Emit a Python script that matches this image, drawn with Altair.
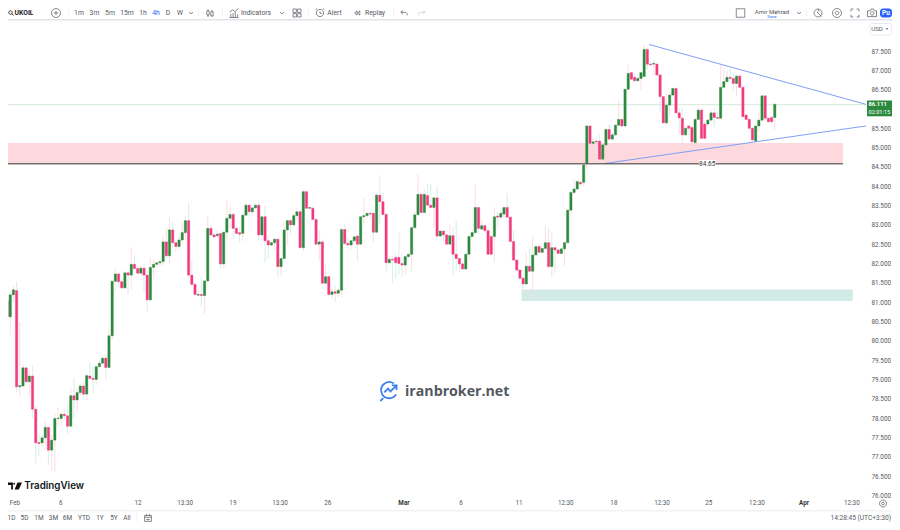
import altair as alt
import pandas as pd

opens = [80.82,80.51,81.03,80.62,81.19,81.3,78.81,78.83,79.3,78.94,
79.09,78.23,77.37,77.36,77.49,77.76,77.17,77.43,77.99,77.99,
78.1,78.06,77.79,78.58,78.47,78.66,78.83,78.62,79.09,79.03,
79.0,79.33,79.42,79.55,79.31,80.13,81.54,81.73,81.53,81.37,
81.76,81.7,81.98,81.87,81.75,81.88,81.7,81.06,81.9,81.98,
82.02,82.05,82.56,82.2,82.87,82.54,82.44,82.61,82.8,83.11,
81.7,81.46,81.18,81.2,81.17,81.55,82.91,82.74,82.72,82.78,
81.99,82.81,83.17,83.27,82.91,82.8,82.78,83.25,83.51,83.34,
83.44,83.51,82.74,83.21,82.59,82.48,82.54,82.63,81.92,82.13,
82.87,83.11,83.0,83.24,83.34,82.41,83.86,83.43,83.43,83.14,
82.5,82.56,81.49,81.66,81.2,81.27,81.23,81.31,82.88,82.52,
82.48,82.59,82.71,82.5,83.21,83.24,83.3,83.3,82.81,83.77,
83.6,83.27,82.02,82.11,82.16,82.16,82.0,81.96,82.18,82.24,
82.93,83.26,83.79,83.32,83.76,83.51,83.45,83.7,82.71,82.84,
82.74,82.5,82.72,82.24,82.13,81.99,81.86,82.24,82.7,82.8,
83.45,82.89,82.98,82.85,82.7,82.7,83.23,83.2,83.28,83.45,
83.2,82.57,82.09,81.83,81.62,81.47,81.93,81.8,82.22,82.44,
82.29,82.39,82.54,81.92,82.41,82.35,82.26,82.38,82.54,83.38,
83.84,83.93,84.1,84.1,84.6,85.56,85.11,85.17,85.17,84.7,
85.07,85.47,85.22,85.33,85.58,85.73,85.56,86.51,86.94,86.82,
86.73,86.79,86.84,87.54,87.16,87.16,87.16,86.88,86.32,85.64,
86.1,86.36,86.53,85.9,85.76,85.33,85.56,85.52,85.13,85.73,
85.97,85.61,85.61,85.71,85.9,85.78,85.76,86.56,86.71,86.82,
86.79,86.66,86.85,86.56,85.84,85.73,85.5,85.17,85.56,85.71,
86.34,85.76,85.78,85.78]

closes = [80.51,81.03,80.62,81.19,81.32,78.81,78.84,79.3,78.94,79.09,
78.23,77.36,77.34,77.49,77.76,77.17,77.43,77.99,78.0,78.1,
78.06,77.79,78.58,78.47,78.66,78.83,78.62,79.1,79.03,79.0,
79.33,79.42,79.55,79.31,80.13,81.54,81.73,81.53,81.37,81.76,
81.7,81.98,81.87,81.75,81.88,81.7,81.06,81.9,81.98,82.02,
82.05,82.56,82.2,82.87,82.54,82.44,82.61,82.8,83.11,81.7,
81.46,81.2,81.2,81.17,81.55,82.91,82.74,82.69,82.76,81.99,
82.81,83.17,83.27,82.91,82.78,82.76,83.25,83.51,83.34,83.44,
83.51,82.74,83.21,82.59,82.48,82.54,82.63,81.92,82.13,82.87,
83.11,83.0,83.24,83.34,82.41,83.86,83.43,83.45,83.14,82.5,
82.56,81.49,81.66,81.2,81.27,81.23,81.31,82.88,82.52,82.48,
82.59,82.69,82.5,83.21,83.24,83.3,83.28,82.81,83.77,83.6,
83.27,82.02,82.11,82.09,82.02,82.0,81.96,82.18,82.24,82.93,
83.26,83.79,83.32,83.79,83.51,83.45,83.7,82.71,82.84,82.74,
82.5,82.72,82.24,82.13,81.99,81.86,82.24,82.7,82.8,83.45,
82.91,82.98,82.85,82.24,82.24,83.21,83.2,83.3,83.45,83.2,
82.57,82.09,81.83,81.62,81.47,81.93,81.8,82.22,82.44,82.29,
82.39,82.54,81.92,82.41,82.35,82.26,82.38,82.54,83.38,83.84,
83.93,84.12,84.06,84.55,85.56,85.11,85.15,85.15,84.7,85.07,
85.47,85.22,85.33,85.58,85.73,85.56,86.51,86.92,86.77,86.73,
86.79,86.94,87.54,87.16,87.14,87.18,86.88,86.32,85.64,86.1,
86.36,86.53,85.9,85.77,85.33,85.5,85.5,85.15,85.73,85.97,
85.24,85.24,85.71,85.9,85.78,85.76,86.56,86.71,86.82,86.79,
86.66,86.85,86.56,85.8,85.73,85.5,85.2,85.56,85.71,86.34,
85.76,85.67,85.67,86.12]

highs = [80.93,81.14,81.19,81.27,81.42,81.53,80.49,79.39,79.33,79.26,
79.37,78.31,77.61,77.56,77.9,77.76,77.56,78.12,78.29,78.17,
78.23,78.4,78.77,79.03,78.78,78.9,78.93,79.12,79.44,79.35,
79.36,79.5,79.6,79.63,80.36,81.56,81.87,81.74,81.56,81.8,
81.8,82.42,82.22,81.95,81.95,82.0,81.75,82.15,82.1,82.05,
82.1,82.7,82.91,83.2,83.08,82.6,82.7,83.04,83.25,83.57,
82.1,81.5,81.32,81.66,81.58,83.21,83.0,82.8,82.85,82.8,
82.82,83.64,83.51,83.3,82.95,82.94,83.28,83.57,83.53,83.47,
83.56,83.6,83.23,83.49,82.71,82.59,82.65,82.65,82.14,83.04,
83.13,83.13,83.32,83.43,83.39,83.92,83.88,83.47,83.46,83.17,
82.87,82.62,81.96,81.68,81.36,81.44,81.36,82.94,83.04,82.65,
82.61,82.74,82.74,83.23,83.69,83.32,83.34,83.34,83.83,84.29,
83.83,83.3,82.16,82.2,82.26,82.8,82.26,82.22,82.26,82.95,
83.34,84.31,83.82,83.93,84.05,84.05,83.73,84.01,82.87,82.87,
82.78,83.01,82.95,83.13,82.15,82.05,82.26,82.72,82.87,84.03,
83.47,83.1,83.01,82.91,82.74,83.45,83.34,83.38,83.47,83.82,
83.22,82.87,82.12,81.86,81.63,82.29,82.39,82.72,82.46,82.46,
82.41,82.98,82.91,82.82,82.43,82.38,82.39,82.58,83.41,83.88,
84.19,84.16,84.14,84.6,85.6,85.59,85.24,85.28,85.33,85.1,
85.5,85.59,85.37,85.63,86.21,85.76,86.53,87.16,86.97,86.92,
86.84,86.97,87.66,87.6,87.22,87.27,87.2,86.9,86.34,86.4,
86.45,86.56,86.55,86.02,86.02,85.56,85.58,85.56,85.76,86.06,
86.02,85.67,85.76,85.97,86.02,85.93,87.14,87.0,86.99,87.05,
86.92,86.88,86.92,86.58,85.87,85.76,85.53,85.58,85.93,86.36,
86.36,85.78,85.82,86.15]

lows = [80.23,80.47,80.49,80.15,81.0,78.66,78.57,78.81,78.9,78.57,
78.0,76.83,77.02,77.28,77.3,76.79,76.64,76.61,77.78,77.82,
77.95,77.6,77.78,78.0,78.17,78.6,78.55,78.47,78.99,78.65,
78.85,79.3,79.4,79.0,79.3,80.03,81.3,81.4,81.35,81.35,
81.2,81.31,81.85,81.7,81.68,81.25,80.75,81.03,81.6,81.9,
81.92,81.94,82.13,82.0,82.42,82.3,82.35,82.5,82.6,81.62,
81.42,81.17,81.14,80.88,80.69,81.5,82.7,82.65,82.65,81.87,
81.87,82.6,82.91,82.65,82.76,82.54,82.59,83.25,83.23,83.25,
83.42,82.6,82.7,82.02,82.11,82.45,82.35,81.64,81.68,82.1,
82.48,82.78,82.95,83.13,82.39,82.31,83.41,83.4,83.12,82.5,
82.07,81.47,81.44,81.16,81.1,81.0,81.12,81.12,82.5,82.45,
82.37,82.48,82.07,82.48,83.0,83.17,83.17,82.56,82.78,83.02,
83.25,81.79,81.96,81.49,81.59,81.7,81.66,81.7,82.13,81.79,
82.9,83.24,83.3,83.3,83.49,83.44,82.93,82.67,82.69,82.57,
82.48,82.48,81.7,81.83,81.79,81.83,81.83,82.13,82.67,82.78,
82.78,82.87,82.82,82.22,82.22,82.05,82.95,83.18,83.17,83.17,
82.55,82.06,81.81,81.57,81.34,81.44,81.79,81.05,82.2,82.26,
82.26,82.37,81.89,81.66,81.77,82.25,82.24,81.94,82.52,83.21,
83.8,83.9,84.0,84.0,84.45,85.09,84.94,85.1,84.68,84.57,
85.04,85.2,85.2,85.3,85.55,85.52,85.54,86.49,86.75,86.7,
86.7,86.47,86.82,87.03,87.11,86.88,86.85,85.93,85.63,85.58,
85.8,86.34,85.89,85.33,85.04,85.3,85.28,85.13,85.11,85.71,
85.21,85.21,85.5,85.7,85.52,85.73,85.73,86.54,86.68,86.77,
86.45,86.32,86.54,85.78,85.71,85.47,85.15,85.15,85.41,85.69,
85.73,85.63,85.61,85.47]

price_ticks = [76.0 + 0.5 * k for k in range(24)]
time_labels = ["Feb","6","12","13:30","19","13:30","26","Mar","6","11","12:30","18","12:30","25","12:30","Apr","12:30"]
time_index = [4.5,18.9,43.1,57.9,72.9,87.7,102.7,126.6,144.5,162.7,177.4,192.5,207.6,222.3,237.4,252.2,267.2]
time_bold = [0,0,0,0,0,0,0,1,0,0,0,0,0,0,0,1,0]

GREEN = "#2b8a3e"
PINK = "#f23a7e"
BLUE = "#7f9ff5"
GREY = "#55585f"
FONT = "Roboto"
W, H = 884, 514

n = len(opens)
df = pd.DataFrame({"i": list(range(n)), "o": opens, "c": closes, "h": highs, "l": lows})
df["dir"] = ["up" if c >= o else "down" for o, c in zip(opens, closes)]

xs = alt.Scale(domain=[2.3, 279.8], nice=False, zero=False, padding=0)
ys = alt.Scale(domain=[75.311, 88.613], nice=False, zero=False, padding=0)
dirscale = alt.Scale(domain=["up", "down"], range=[GREEN, PINK])
one = pd.DataFrame({"a": [0]})
yaxis = alt.Axis(orient="right", offset=-26, values=price_ticks, format=".3f", grid=False, domain=False,
                 ticks=False, labelPadding=5, labelFontSize=6.4, labelColor=GREY, labelFont=FONT, labelOverlap=False)

def X(f): return alt.X(f, scale=xs, axis=None)
def Y(f): return alt.Y(f, scale=ys, title=None, axis=yaxis)

layers = []

# price zones
zones = pd.DataFrame({"x0": [2.3, 163.5], "x1": [264.4, 267.5], "y0": [85.12, 81.33], "y1": [84.58, 81.03], "k": ["r", "t"]})
layers.append(alt.Chart(zones).mark_rect().encode(
    x=X("x0:Q"), x2="x1:Q", y=Y("y0:Q"), y2="y1:Q",
    color=alt.Color("k:N", scale=alt.Scale(domain=["r", "t"], range=["#fdd8dc", "#d2ebe6"]), legend=None)))

# last price line
layers.append(alt.Chart(pd.DataFrame({"x0": [2.3], "x1": [271.6], "y": [86.111]})).mark_rule(color="#c9e4cc", strokeWidth=0.8).encode(
    x=X("x0:Q"), x2="x1:Q", y=Y("y:Q")))

# candles
layers.append(alt.Chart(df).mark_rule(strokeWidth=1.1, opacity=0.8).encode(
    x=X("i:Q"), y=Y("l:Q"), y2="h:Q", color=alt.Color("dir:N", scale=dirscale, legend=None)))
layers.append(alt.Chart(df).mark_bar(size=2.3, strokeWidth=0.4).encode(
    x=X("i:Q"), y=Y("o:Q"), y2="c:Q",
    fill=alt.Fill("dir:N", scale=dirscale, legend=None),
    stroke=alt.Stroke("dir:N", scale=dirscale, legend=None)))

# trend lines
trend = pd.DataFrame({"x0": [203.5, 189.7], "x1": [271.6, 271.6], "y0": [87.67, 84.59], "y1": [86.12, 85.56]})
layers.append(alt.Chart(trend).mark_rule(color=BLUE, strokeWidth=1).encode(
    x=X("x0:Q"), x2="x1:Q", y=Y("y0:Q"), y2="y1:Q"))

# support line with label
layers.append(alt.Chart(pd.DataFrame({"x0": [2.3], "x1": [264.4], "y": [84.58]})).mark_rule(color="#333333", strokeWidth=1).encode(
    x=X("x0:Q"), x2="x1:Q", y=Y("y:Q")))
layers.append(alt.Chart(pd.DataFrame({"x0": [219.2], "x1": [224.5], "y0": [84.68], "y1": [84.48]})).mark_rect(color="white").encode(
    x=X("x0:Q"), x2="x1:Q", y=Y("y0:Q"), y2="y1:Q"))
layers.append(alt.Chart(pd.DataFrame({"x": [221.8], "y": [84.58], "t": ["84.65"]})).mark_text(
    fontSize=6.5, font=FONT, color="#333333", baseline="middle").encode(x=X("x:Q"), y=Y("y:Q"), text="t:N"))

# time axis
tdf = pd.DataFrame({"x": time_index, "t": time_labels, "b": time_bold})
layers.append(alt.Chart(tdf[tdf.b == 0]).mark_text(fontSize=6.3, font=FONT, color=GREY, baseline="middle").encode(
    x=X("x:Q"), y=alt.value(495.3), text="t:N"))
layers.append(alt.Chart(tdf[tdf.b == 1]).mark_text(fontSize=6.3, font=FONT, fontWeight="bold", color="#333333", baseline="middle").encode(
    x=X("x:Q"), y=alt.value(495.3), text="t:N"))

# page chrome, in page pixels
def rect(x0, y0, x1, y1, fill="white", stroke=None, r=0):
    kw = {"color": fill, "cornerRadius": r}
    if stroke:
        kw.update(stroke=stroke, strokeWidth=0.8)
    layers.append(alt.Chart(one).mark_rect(**kw).encode(
        x=alt.value(x0 - 8), x2=alt.value(x1 - 8), y=alt.value(y0 - 8), y2=alt.value(y1 - 8)))

def text(t, x, y, size=6.8, color=GREY, align="center", weight="normal", font=FONT):
    layers.append(alt.Chart(one).mark_text(
        text=t, fontSize=size, color=color, align=align, baseline="middle", fontWeight=weight, font=font
    ).encode(x=alt.value(x - 8), y=alt.value(y - 8)))

def icon(path, x, y, d, color=GREY, sw=0.7, filled=False):
    kw = {"fill": color, "strokeWidth": 0} if filled else {"stroke": color, "strokeWidth": sw, "fill": None}
    layers.append(alt.Chart(one).mark_point(shape=path, size=d * d, opacity=1, filled=filled, **kw).encode(
        x=alt.value(x - 8), y=alt.value(y - 8)))

CIRCLE = "M-1,0A1,1 0 1 1 1,0A1,1 0 1 1 -1,0"
CHEV = "M-1,-0.4L0,0.4L1,-0.4"

# toolbars
rect(8, 19, 892, 20.5, fill="#e2e4ea")
rect(8, 510.5, 892, 511.2, fill="#e4e6ec")

TOP = 13
icon("M-0.9,-0.2A0.7,0.7 0 1 1 0.5,-0.2A0.7,0.7 0 1 1 -0.9,-0.2M0.3,0.3L1,1", 11, TOP, 5, color="#333333", sw=1)
text("UKOIL", 14.5, TOP, size=6.8, color="#222222", weight="bold", align="left")
icon(CIRCLE + "M-0.5,0L0.5,0M0,-0.5L0,0.5", 56, TOP, 9)
for t, x, c in [("1m", 79, GREY), ("3m", 94.5, GREY), ("5m", 110, GREY), ("15m", 127, GREY), ("1h", 143, GREY),
                ("4h", 156, "#2962ff"), ("D", 168, GREY), ("W", 180, GREY)]:
    text(t, x, TOP, color=c)
icon(CHEV, 191, TOP, 4)
icon("M-0.8,-0.5H-0.2V0.5H-0.8ZM-0.5,-1V-0.5M-0.5,0.5V1M0.2,-0.3H0.8V0.7H0.2ZM0.5,-0.8V-0.3M0.5,0.7V1", 210, TOP, 8)
icon("M-1,1H1M-0.7,1V0.2M-0.2,1V0M0.3,1V-0.2M0.8,1V0.3M-1,-0.2L-0.3,-0.7L0.2,-0.3L1,-1", 234, TOP, 9)
text("Indicators", 256, TOP)
icon(CHEV, 282, TOP, 4)
icon("M-1,-1H-0.15V-0.15H-1ZM0.15,-1H1V-0.15H0.15ZM-1,0.15H-0.15V1H-1ZM0.15,0.15H1V1H0.15Z", 297, TOP, 8)
icon("M-0.8,0A0.8,0.8 0 1 1 0.8,0A0.8,0.8 0 1 1 -0.8,0M0,-0.4V0.1H0.4M-1,-0.7L-0.6,-1M1,-0.7L0.6,-1", 320, TOP, 9)
text("Alert", 334.5, TOP)
icon("M0,-0.6L-0.7,0L0,0.6ZM0.8,-0.6L0.1,0L0.8,0.6Z", 357, TOP, 7)
text("Replay", 375, TOP)
icon("M-0.3,-0.7L-0.9,-0.2L-0.3,0.3M-0.9,-0.2H0.3A0.6,0.6 0 0 1 0.9,0.4V0.7", 404, TOP, 7)
icon("M0.3,-0.7L0.9,-0.2L0.3,0.3M0.9,-0.2H-0.3A0.6,0.6 0 0 0 -0.9,0.4V0.7", 422, TOP, 7, color="#c8cad0")
for x in (68.5, 198.5, 222, 308, 393, 806):
    rect(x, 9, x + 0.6, 17, fill="#e6e8ee")

icon("M-1,-1H1V1H-1Z", 740.5, TOP, 8.5)
text("Amir Mehrad", 772, 11.5, size=6, color=GREY)
text("Save", 772, 16.8, size=4.4, color="#2962ff")
icon(CHEV, 799, TOP, 4)
icon(CIRCLE + "M-0.3,-0.3L0.9,0.9M0,-1L0.3,-0.3", 818, TOP, 8)
icon(CIRCLE + "M-0.4,0A0.4,0.4 0 1 1 0.4,0A0.4,0.4 0 1 1 -0.4,0", 837, TOP, 9)
icon("M-1,-0.4V-1H-0.4M0.4,-1H1V-0.4M1,0.4V1H0.4M-0.4,1H-1V0.4", 855, TOP, 8)
icon("M-1,-0.5H-0.4L-0.2,-0.9H0.3L0.5,-0.5H1V0.8H-1ZM-0.35,0.1A0.4,0.4 0 1 1 0.45,0.1A0.4,0.4 0 1 1 -0.35,0.1", 872, TOP, 9)
rect(880, 8.5, 892, 17.5, fill="#2962ff", r=3)
text("Pu", 886, TOP, color="white", weight="bold", size=6.5)

# price scale extras
rect(870, 23.5, 891.5, 35, fill="white", stroke="#e4e6ec", r=2)
text("USD", 877, 29, size=6.2)
icon("M-1,-0.5L1,-0.5L0,0.5Z", 887, 29, 3, filled=True)
rect(867, 100.5, 892, 116.3, fill=GREEN)
text("86.111", 868.5, 104.2, size=5.8, color="white", align="left", weight="bold")
text("02:01:15", 868.5, 112.4, size=5.6, color="white", align="left")
icon(CIRCLE + "M-0.4,0A0.4,0.4 0 1 1 0.4,0A0.4,0.4 0 1 1 -0.4,0", 883, 503.5, 7)

# range bar
BOT = 518
for t, x in [("1D", 11.5), ("5D", 24.5), ("1M", 39), ("3M", 53.5), ("6M", 67.5), ("YTD", 84), ("1Y", 100), ("5Y", 114), ("All", 127)]:
    text(t, x, BOT, size=6.5)
rect(136.5, 513, 137.1, 521.5, fill="#e6e8ee")
icon("M-0.9,-0.7H0.9V0.9H-0.9ZM-0.9,-0.2H0.9M-0.4,-1V-0.5M0.4,-1V-0.5M-0.4,0.4H0.3M0.05,0.15L0.3,0.4L0.05,0.65", 148, BOT, 7.5)
text("14:28:45 (UTC+3:30)", 891, BOT, size=6.6, align="right")

# logos
icon("M-1,-0.5H-0.3V0.5H-0.55V-0.15H-1ZM-0.25,-0.32A0.13,0.13 0 1 1 0.01,-0.32A0.13,0.13 0 1 1 -0.25,-0.32ZM0.35,-0.5H1L0.55,0.5H-0.05Z", 15, 486, 14, color="#111111", filled=True)
text("TradingView", 24.3, 486, size=9.8, color="#131722", align="left", weight=600, font="Inter")
icon("M0.55,-0.85A0.85,0.85 0 1 0 0.8,0.3M-0.55,0.7L-0.85,1M-0.45,0.1L-0.05,-0.3L0.2,0L0.75,-0.55M0.35,-0.65H0.85V-0.15", 388.5, 391.5, 19, color="#3b7ff0", sw=1.8)
text("iranbroker.net", 405, 391.5, size=14.2, color="#55585f", align="left", weight="bold", font="Open Sans")

chart = alt.layer(*layers).properties(
    width=W, height=H, padding={"left": 0, "top": 0, "right": 0, "bottom": 0},
    autosize=alt.AutoSizeParams(type="none"), background="white"
).configure_view(strokeWidth=0)

chart.save("out.html", embed_options={"renderer": "svg", "actions": False})
